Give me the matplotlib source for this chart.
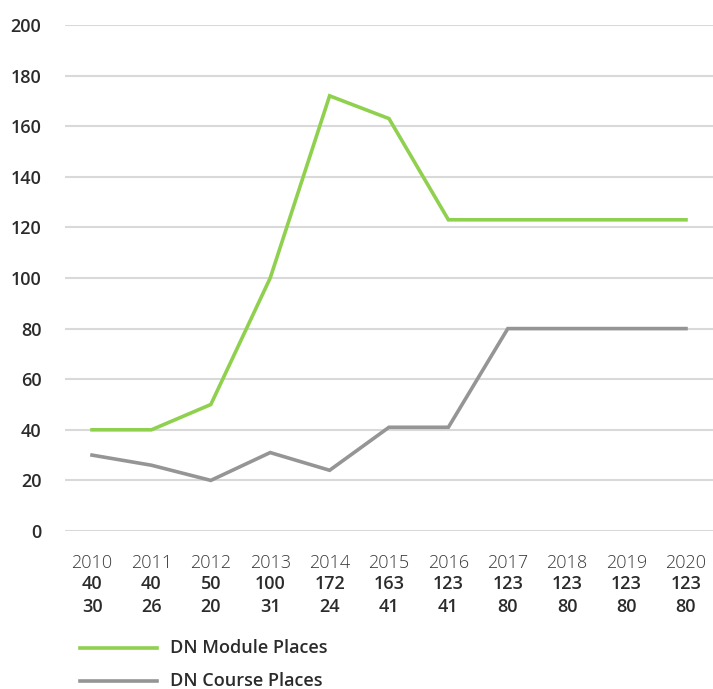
import matplotlib.pyplot as plt
from matplotlib.lines import Line2D

years = ["2010", "2011", "2012", "2013", "2014", "2015", "2016", "2017", "2018", "2019", "2020"]
module_places = [40, 40, 50, 100, 172, 163, 123, 123, 123, 123, 123]
course_places = [30, 26, 20, 31, 24, 41, 41, 80, 80, 80, 80]
yticks = [0, 20, 40, 60, 80, 100, 120, 140, 160, 180, 200]

green = "#8fd14f"
grey = "#959595"
text_col = "#2b2b2b"

plt.rcParams["font.family"] = ["Open Sans", "DejaVu Sans"]

fig = plt.figure(figsize=(7.13, 6.89), dpi=100)
ax = fig.add_axes([65 / 713, 1 - 531 / 689, 648 / 713, 506 / 689])

x = list(range(len(years)))
ax.plot(x, module_places, color=green, lw=2.6, solid_joinstyle="miter")
ax.plot(x, course_places, color=grey, lw=2.6, solid_joinstyle="miter")

ax.set_xlim(-0.455, len(years) - 1 + 0.455)
ax.set_ylim(0, 200)
ax.set_yticks(yticks)
ax.set_yticklabels([str(v) for v in yticks], fontsize=13, fontweight="semibold", color=text_col)
ax.tick_params(axis="y", length=0, pad=17)
ax.set_xticks([])
ax.grid(axis="y", color="#d9d9d9", lw=1.5)
ax.set_axisbelow(True)
for s in ax.spines.values():
    s.set_visible(False)

# data table under the axis: year, module places, course places
trans = ax.get_xaxis_transform()
for i, yr in enumerate(years):
    ax.text(i, -0.063, yr, transform=trans, ha="center", va="center",
            fontsize=13, fontweight="light", color="#3a3a3a")
    ax.text(i, -0.105, str(module_places[i]), transform=trans, ha="center", va="center",
            fontsize=13, fontweight="semibold", color=text_col)
    ax.text(i, -0.150, str(course_places[i]), transform=trans, ha="center", va="center",
            fontsize=13, fontweight="semibold", color=text_col)

# legend drawn by hand in figure coordinates
for ypix, col, label in [(648, green, "DN Module Places"), (681, grey, "DN Course Places")]:
    yf = 1 - ypix / 689
    fig.add_artist(Line2D([80 / 713, 157 / 713], [yf, yf], color=col, lw=2.6))
    fig.text(170 / 713, yf, label, ha="left", va="center", fontsize=13,
             fontweight="semibold", color=text_col)

fig.savefig("out.png", dpi=100)
